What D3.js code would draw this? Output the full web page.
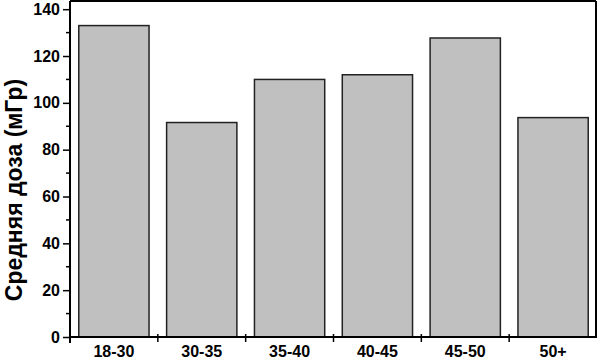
<!DOCTYPE html>
<html>
<head>
<meta charset="utf-8">
<script src="https://cdn.jsdelivr.net/npm/d3@7"></script>
<style>
  body { margin: 0; background: #fff; }
  text { font-family: Arial, "Liberation Sans", sans-serif; font-weight: bold; }
</style>
</head>
<body>
<div id="chart"></div>
<script>
var categories = ["18-30", "30-35", "35-40", "40-45", "45-50", "50+"];
var doses = [133, 91.6, 110, 112, 127.7, 93.7];
var majorTicks = [0, 20, 40, 60, 80, 100, 120, 140];
var minorTicks = [10, 30, 50, 70, 90, 110, 130];

var width = 598, height = 359;
var plotLeft = 70, plotRight = 596, plotTop = 1, plotBottom = 337;

var svg = d3.select("#chart")
    .append("svg")
    .attr("width", width)
    .attr("height", height);

var x = d3.scaleBand()
    .domain(categories)
    .range([plotLeft, plotRight + 1])
    .paddingInner(0.2)
    .paddingOuter(0.1);

var y = d3.scaleLinear()
    .domain([0, 143.5])
    .range([plotBottom, plotTop]);

// bars
svg.selectAll("rect.bar")
    .data(doses)
    .enter()
    .append("rect")
    .attr("class", "bar")
    .attr("x", function(d, i) { return x(categories[i]); })
    .attr("y", function(d) { return y(d); })
    .attr("width", x.bandwidth())
    .attr("height", function(d) { return y(0) - y(d); })
    .attr("fill", "#c0c0c0")
    .attr("stroke", "#222")
    .attr("stroke-width", 1.5);

// frame top and right
svg.append("line")
    .attr("x1", plotLeft).attr("x2", plotRight)
    .attr("y1", plotTop).attr("y2", plotTop)
    .attr("stroke", "#000").attr("stroke-width", 2);
svg.append("line")
    .attr("x1", plotRight).attr("x2", plotRight)
    .attr("y1", plotTop).attr("y2", plotBottom)
    .attr("stroke", "#000").attr("stroke-width", 2);

// y axis
var yAxis = svg.append("g")
    .attr("transform", "translate(" + plotLeft + ",0)")
    .call(d3.axisLeft(y).tickValues(majorTicks).tickSize(7).tickPadding(3));
yAxis.select(".domain").remove();
yAxis.selectAll(".tick line").attr("stroke-width", 1.5);
yAxis.selectAll(".tick text")
    .style("font-size", "16px")
    .attr("fill", "#000");

svg.selectAll("line.minor")
    .data(minorTicks)
    .enter()
    .append("line")
    .attr("class", "minor")
    .attr("x1", plotLeft - 4).attr("x2", plotLeft)
    .attr("y1", function(d) { return y(d); })
    .attr("y2", function(d) { return y(d); })
    .attr("stroke", "#000").attr("stroke-width", 1.5);

svg.append("line")
    .attr("x1", plotLeft).attr("x2", plotLeft)
    .attr("y1", plotTop).attr("y2", plotBottom + 6)
    .attr("stroke", "#000").attr("stroke-width", 2);

// x axis
svg.append("line")
    .attr("x1", plotLeft).attr("x2", plotRight + 1)
    .attr("y1", plotBottom).attr("y2", plotBottom)
    .attr("stroke", "#000").attr("stroke-width", 2);

var half = x.step() * x.paddingInner() / 2;
svg.selectAll("line.xtick")
    .data(categories.slice(1))
    .enter()
    .append("line")
    .attr("class", "xtick")
    .attr("x1", function(d) { return x(d) - half; })
    .attr("x2", function(d) { return x(d) - half; })
    .attr("y1", plotBottom - 3).attr("y2", plotBottom + 5)
    .attr("stroke", "#000").attr("stroke-width", 1.5);

svg.selectAll("text.xlabel")
    .data(categories)
    .enter()
    .append("text")
    .attr("class", "xlabel")
    .attr("x", function(d) { return x(d) + x.bandwidth() / 2; })
    .attr("y", 357)
    .attr("text-anchor", "middle")
    .style("font-size", "16px")
    .text(function(d) { return d; });

// y label
svg.append("text")
    .attr("transform", "translate(22," + 190 + ") rotate(-90)")
    .attr("text-anchor", "middle")
    .style("font-size", "23px")
    .text("Средняя доза (мГр)");
</script>
</body>
</html>
